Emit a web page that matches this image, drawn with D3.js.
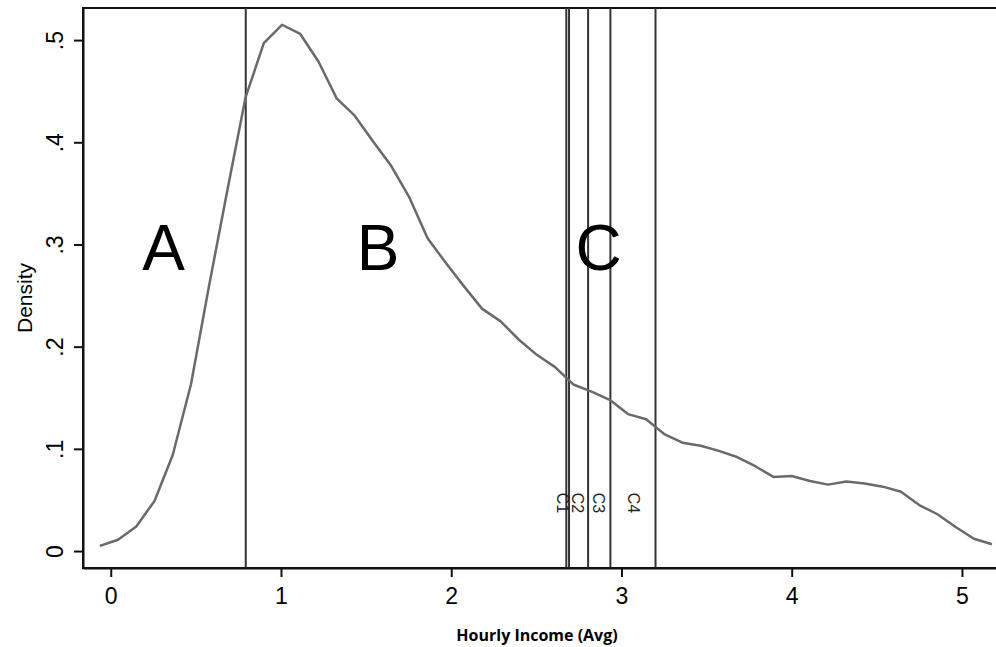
<!DOCTYPE html>
<html>
  <head>
    <meta charset="utf-8">
    <title>Hourly income density</title>
    <script src="https://d3js.org/d3.v7.min.js"></script>
    <style>
      body { margin: 0; background: #fff; }
    </style>
  </head>
  <body>
    <div id="chart"></div>
    <script>
      // kernel density points (x = hourly income, y = density)
      const incomeX = [-0.064, 0.043, 0.150, 0.257, 0.364, 0.471, 0.578, 0.685, 0.792, 0.899,
        1.006, 1.113, 1.220, 1.327, 1.433, 1.540, 1.647, 1.754, 1.861, 1.968,
        2.075, 2.182, 2.289, 2.396, 2.503, 2.610, 2.717, 2.824, 2.931, 3.038,
        3.145, 3.251, 3.358, 3.465, 3.572, 3.679, 3.786, 3.893, 4.000, 4.107,
        4.214, 4.321, 4.428, 4.535, 4.642, 4.749, 4.856, 4.963, 5.070, 5.176];
      const densityY = [0.005, 0.011, 0.024, 0.049, 0.094, 0.163, 0.260, 0.353, 0.444, 0.497,
        0.515, 0.506, 0.479, 0.443, 0.426, 0.401, 0.377, 0.346, 0.306, 0.282,
        0.259, 0.237, 0.225, 0.207, 0.192, 0.180, 0.163, 0.156, 0.148, 0.134,
        0.129, 0.1145, 0.106, 0.103, 0.098, 0.092, 0.083, 0.0725, 0.0735, 0.0685,
        0.065, 0.068, 0.066, 0.063, 0.058, 0.045, 0.036, 0.0235, 0.012, 0.0066];

      // vertical cut-off lines
      const cutLines = [0.793, 2.676, 2.692, 2.804, 2.935, 3.200];

      // small rotated labels between cut lines
      const cLabels = ["C1", "C2", "C3", "C4"];
      const cLabelX = [2.653, 2.74, 2.864, 3.07];
      const cLabelY = 0.047;

      // big region letters
      const regionLabels = ["A", "B", "C"];
      const regionX = [0.31, 1.57, 2.865];
      const regionY = 0.275;

      const xTicks = [0, 1, 2, 3, 4, 5];
      const yTicks = [0, 0.1, 0.2, 0.3, 0.4, 0.5];
      const yTickLabels = ["0", ".1", ".2", ".3", ".4", ".5"];

      const width = 996, height = 647;
      const plotLeft = 83, plotRight = 996, plotTop = 8, plotBottom = 568;

      const svg = d3.select("#chart")
        .append("svg")
        .attr("width", width)
        .attr("height", height);

      const x = d3.scaleLinear().domain([-0.163, 5.2]).range([plotLeft, plotRight]);
      const y = d3.scaleLinear().domain([-0.0166, 0.5314]).range([plotBottom, plotTop]);

      // frame
      svg.append("rect")
        .attr("x", plotLeft)
        .attr("y", plotTop)
        .attr("width", plotRight - plotLeft + 2)
        .attr("height", plotBottom - plotTop)
        .attr("fill", "none")
        .attr("stroke", "#111")
        .attr("stroke-width", 2);

      // cut lines
      svg.selectAll("line.cut")
        .data(cutLines)
        .join("line")
        .attr("class", "cut")
        .attr("x1", d => x(d))
        .attr("x2", d => x(d))
        .attr("y1", plotTop)
        .attr("y2", plotBottom)
        .attr("stroke", "#333")
        .attr("stroke-width", 2);

      // density curve
      const pts = incomeX.map((v, i) => [v, densityY[i]]);
      svg.append("path")
        .datum(pts)
        .attr("d", d3.line().x(d => x(d[0])).y(d => y(d[1])))
        .attr("fill", "none")
        .attr("stroke", "#6a6a6a")
        .attr("stroke-width", 2.5)
        .attr("stroke-linejoin", "round");

      // big letters
      svg.selectAll("text.region")
        .data(regionLabels)
        .join("text")
        .attr("class", "region")
        .attr("x", (_, i) => x(regionX[i]))
        .attr("y", y(regionY))
        .attr("text-anchor", "middle")
        .attr("font-family", "Liberation Sans, Arial, sans-serif")
        .attr("font-size", 64)
        .attr("fill", "#000")
        .text(d => d);

      // C1..C4
      svg.selectAll("text.clab")
        .data(cLabels)
        .join("text")
        .attr("class", "clab")
        .attr("transform", (_, i) => `translate(${x(cLabelX[i])},${y(cLabelY)}) rotate(90)`)
        .attr("text-anchor", "middle")
        .attr("dy", "0.35em")
        .attr("font-family", "Liberation Sans, Arial, sans-serif")
        .attr("font-size", 16)
        .attr("fill", "#222")
        .text(d => d);

      // x axis
      const xAxis = svg.append("g")
        .attr("transform", `translate(0,${plotBottom})`)
        .call(d3.axisBottom(x).tickValues(xTicks).tickFormat(d3.format("d"))
          .tickSize(9).tickSizeOuter(0).tickPadding(11));
      xAxis.select(".domain").attr("stroke", "#111").attr("stroke-width", 2);
      xAxis.selectAll(".tick line").attr("stroke", "#111").attr("stroke-width", 2);
      xAxis.selectAll(".tick text")
        .attr("font-family", "Liberation Sans, Arial, sans-serif")
        .attr("font-size", 23)
        .attr("fill", "#000");

      // y axis
      const yAxis = svg.append("g")
        .attr("transform", `translate(${plotLeft},0)`)
        .call(d3.axisLeft(y).tickValues(yTicks).tickFormat((d, i) => yTickLabels[i])
          .tickSize(9).tickSizeOuter(0).tickPadding(0));
      yAxis.select(".domain").attr("stroke", "#111").attr("stroke-width", 2);
      yAxis.selectAll(".tick line").attr("stroke", "#111").attr("stroke-width", 2);
      yAxis.selectAll(".tick text")
        .attr("font-family", "Liberation Sans, Arial, sans-serif")
        .attr("font-size", 23)
        .attr("fill", "#000")
        .attr("text-anchor", "middle")
        .attr("x", 0)
        .attr("dy", 0)
        .attr("transform", "translate(-20,0) rotate(-90)");

      // axis titles
      svg.append("text")
        .attr("transform", `translate(32,${(plotTop + plotBottom) / 2 + 10}) rotate(-90)`)
        .attr("text-anchor", "middle")
        .attr("font-family", "Liberation Sans, Arial, sans-serif")
        .attr("font-size", 21)
        .attr("fill", "#000")
        .text("Density");

      svg.append("text")
        .attr("x", 537)
        .attr("y", 641)
        .attr("text-anchor", "middle")
        .attr("font-family", "Open Sans, sans-serif")
        .attr("font-weight", "bold")
        .attr("font-size", 16)
        .attr("fill", "#000")
        .text("Hourly Income (Avg)");
    </script>
  </body>
</html>
